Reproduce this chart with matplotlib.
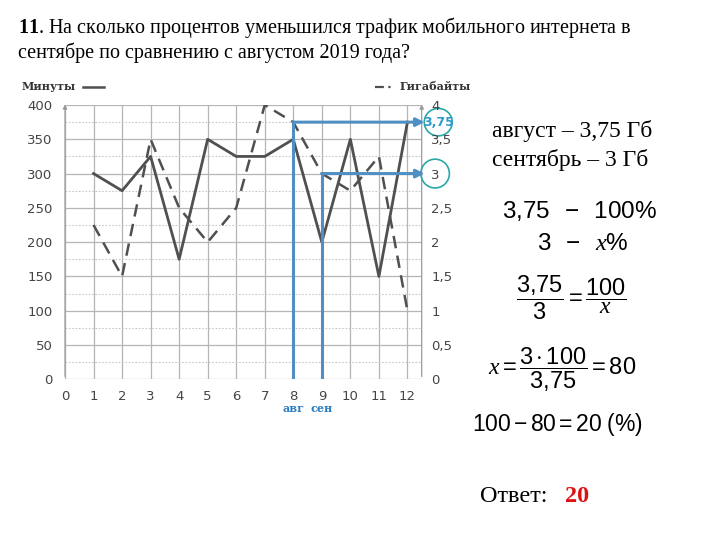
import matplotlib
matplotlib.use("Agg")
import matplotlib.pyplot as plt
from matplotlib.patches import Ellipse
import numpy as np

plt.rcParams['mathtext.fontset'] = 'custom'
plt.rcParams['mathtext.rm'] = 'Liberation Sans'
plt.rcParams['mathtext.it'] = 'Liberation Serif:italic'
plt.rcParams['mathtext.bf'] = 'Liberation Serif:bold'

months = [1, 2, 3, 4, 5, 6, 7, 8, 9, 10, 11, 12]
minutes = [300, 275, 325, 175, 350, 325, 325, 350, 200, 350, 150, 375]
gigabytes = [2.25, 1.5, 3.5, 2.5, 2.0, 2.5, 4.0, 3.75, 3.0, 2.75, 3.25, 1.0]
left_ticks = [0, 50, 100, 150, 200, 250, 300, 350, 400]
right_ticks = [0, 0.5, 1, 1.5, 2, 2.5, 3, 3.5, 4]
right_labels = ['0', '0,5', '1', '1,5', '2', '2,5', '3', '3,5', '4']
aug_month, sep_month = 8, 9
aug_gb, sep_gb = 3.75, 3.0

W, H = 720, 540
fig = plt.figure(figsize=(7.2, 5.4), dpi=100)

def fx(px):
    return px / W

def fy(py):
    return 1 - py / H

ax_l, ax_r, ax_t, ax_b = 65, 421.7, 105, 379.3
ax = fig.add_axes([fx(ax_l), fy(ax_b), fx(ax_r - ax_l), (ax_b - ax_t) / H])
ax.set_xlim(0, 12.5)
ax.set_ylim(0, 400)
ax2 = ax.twinx()
ax2.set_ylim(0, 4)

grid_c = '#b5b5b5'
for x in range(0, 13):
    ax.axvline(x, color=grid_c, lw=0.9, zorder=0)
for y in left_ticks:
    ax.axhline(y, color=grid_c, lw=0.9, zorder=0)
for y in np.arange(25, 400, 50):
    ax.axhline(y, color='#c8c8c8', lw=0.8, ls=(0, (1.5, 1.5)), zorder=0)

for a in (ax, ax2):
    for s in a.spines.values():
        s.set_visible(False)
    a.tick_params(length=0, colors='#444444', labelsize=9.5)

ax.set_xticks(range(0, 13))
ax.set_xticklabels([str(i) for i in range(0, 13)])
ax.tick_params(axis='x', pad=8)
ax.set_yticks(left_ticks)
ax.set_yticklabels([str(v) for v in left_ticks])
ax.tick_params(axis='y', pad=9)
ax2.set_yticks(right_ticks)
ax2.set_yticklabels(right_labels)
ax2.tick_params(axis='y', pad=7)

# axis arrows
ax.annotate('', xy=(0, 405), xytext=(0, 0), annotation_clip=False,
            arrowprops=dict(arrowstyle='-|>', color='#9a9a9a', lw=0.9, mutation_scale=6))
ax.annotate('', xy=(12.5, 405), xytext=(12.5, 0), annotation_clip=False,
            arrowprops=dict(arrowstyle='-|>', color='#9a9a9a', lw=0.9, mutation_scale=6))

line_c = '#505050'
ax.plot(months, minutes, color=line_c, lw=2.0, zorder=3)
ax2.plot(months, gigabytes, color=line_c, lw=1.8, ls=(0, (5, 3)), zorder=3)

blue = '#4f8fc4'
ax2.plot([aug_month, aug_month], [0, aug_gb], color=blue, lw=2.2, zorder=4)
ax2.plot([sep_month, sep_month], [0, sep_gb], color=blue, lw=2.2, zorder=4)
for m, v in [(aug_month, aug_gb), (sep_month, sep_gb)]:
    ax2.annotate('', xy=(12.6, v), xytext=(m, v), annotation_clip=False,
                 arrowprops=dict(arrowstyle='-|>', color=blue, lw=2.2, mutation_scale=12,
                                 shrinkA=0, shrinkB=0), zorder=4)

teal = '#2aa8a8'
ax2.add_patch(Ellipse((13.08, aug_gb), 0.98, 0.40, fill=False, ec=teal, lw=1.2, clip_on=False))
ax2.add_patch(Ellipse((12.97, sep_gb), 1.0, 0.42, fill=False, ec=teal, lw=1.2, clip_on=False))
ax2.text(13.08, aug_gb, '3,75', color='#2a9ad0', fontsize=9, fontweight='bold',
         ha='center', va='center', clip_on=False)

ax.text(aug_month, -42, 'авг', color='#2a7bbf', fontsize=8, fontweight='bold',
        family='DejaVu Serif', ha='center', va='center', clip_on=False)
ax.text(sep_month, -42, 'сен', color='#2a7bbf', fontsize=8, fontweight='bold',
        family='DejaVu Serif', ha='center', va='center', clip_on=False)

# legend texts
fig.text(fx(22), fy(87), 'Минуты', fontsize=8, fontweight='bold', family='DejaVu Serif',
         color='#333333', va='center')
fig.add_artist(plt.Line2D([fx(83), fx(104)], [fy(87), fy(87)], color=line_c, lw=1.8))
fig.add_artist(plt.Line2D([fx(375), fx(394)], [fy(87), fy(87)], color=line_c, lw=1.6,
                          ls=(0, (4, 2, 1, 2))))
fig.text(fx(400), fy(87), 'Гигабайты', fontsize=8, fontweight='bold', family='DejaVu Serif',
         color='#333333', va='center')

# question
serif = 'Liberation Serif'
fig.text(fx(18), fy(28), r'$\mathbf{11}$. На сколько процентов уменьшился трафик мобильного интернета в',
         fontsize=14.5, family=serif, va='center')
fig.text(fx(18), fy(53), 'сентябре по сравнению с августом 2019 года?',
         fontsize=14.5, family=serif, va='center')

# solution
fig.text(fx(492), fy(131), 'август – 3,75 Гб', fontsize=17, family=serif, va='center')
fig.text(fx(492), fy(160), 'сентябрь – 3 Гб', fontsize=17, family=serif, va='center')

fig.text(fx(579), fy(211), r'$3{,}75\ \ -\ \ 100\%$', fontsize=17.5, ha='center', va='center')
fig.text(fx(583), fy(243), r'$3\ \ -\ \ x\%$', fontsize=17.5, ha='center', va='center')
fig.text(fx(571), fy(298), r'$\dfrac{3{,}75}{3}=\dfrac{100}{x}$', fontsize=17, ha='center', va='center')
fig.text(fx(562), fy(370), r'$x=\dfrac{3\cdot100}{3{,}75}=80$', fontsize=17, ha='center', va='center')
fig.text(fx(557), fy(425), r'$100-80=20\ (\%)$', fontsize=16.5, ha='center', va='center')

fig.text(fx(480), fy(497), 'Ответ: ', fontsize=17.5, family=serif, va='center')
fig.text(fx(565), fy(497), '20', fontsize=17.5, family=serif, va='center', color='#dd1111',
         fontweight='bold')

fig.savefig('out.png', dpi=100)
